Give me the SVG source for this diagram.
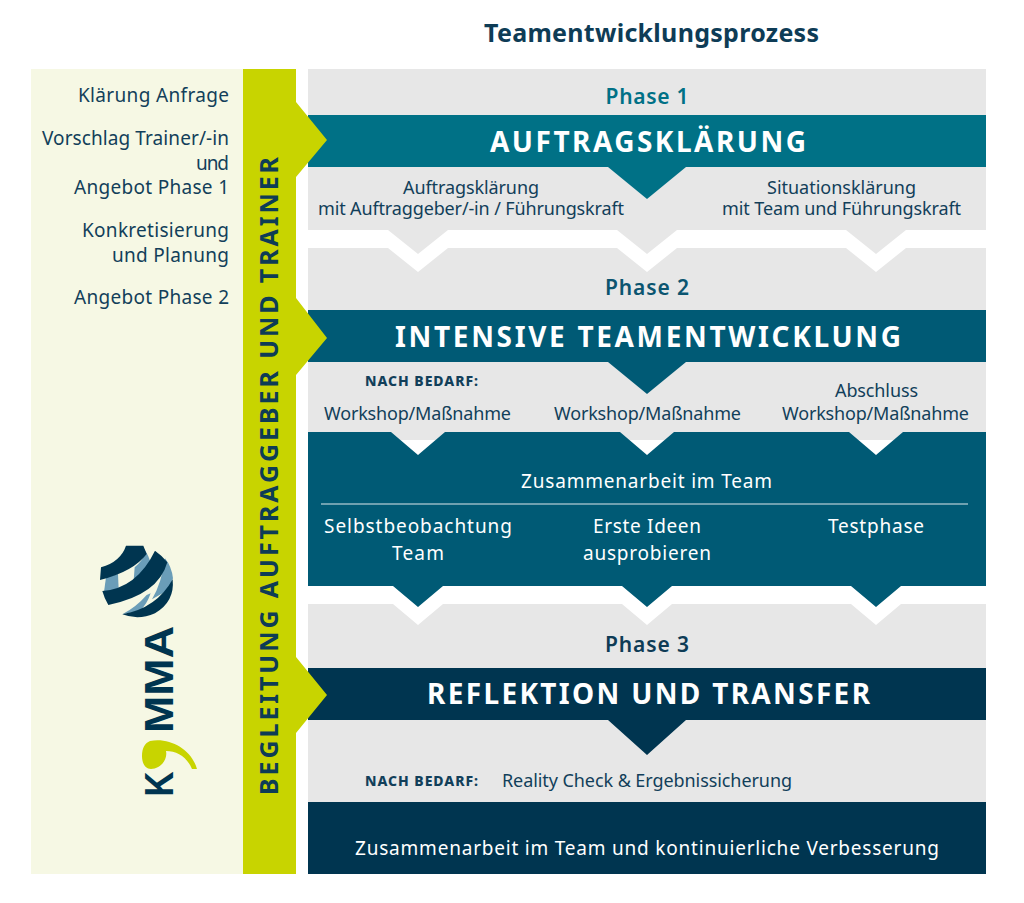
<svg xmlns="http://www.w3.org/2000/svg" width="1024" height="903" viewBox="0 0 1024 903">
<style>
text{font-family:"Noto Sans","Open Sans","Liberation Sans",sans-serif;fill:#123f5a;font-size:18px;text-anchor:middle}
.l{font-size:19px;text-anchor:end}
.w{fill:#fff;font-size:19px}
.h{font-size:28px;font-weight:700;fill:#fff}
.p{font-size:21px;font-weight:600}
.n{font-size:14px;font-weight:800;text-anchor:start}
.grey{fill:#e7e7e7}
.teal{fill:#007186}
.mid{fill:#005a75}
.dark{fill:#003550}
.green{fill:#c8d400}
.lm{font-family:"Liberation Sans",sans-serif;font-size:40px;font-weight:700;fill:#003550;text-anchor:start}
</style>
<rect width="1024" height="903" fill="#fff"/>
<text id="title" x="651.5" y="42" textLength="335" style="font-size:25px;font-weight:700;fill:#0e3c56">Teamentwicklungsprozess</text>
<g id="left-panel">
<rect x="31" y="69" width="212" height="805" fill="#f6f8e4"/>
<text class="l" x="229" y="102" textLength="151">Klärung Anfrage</text>
<text class="l" x="229" y="145" textLength="187">Vorschlag Trainer/-in</text>
<text class="l" x="229" y="170" textLength="33">und</text>
<text class="l" x="229" y="194" textLength="155">Angebot Phase 1</text>
<text class="l" x="229" y="237" textLength="147">Konkretisierung</text>
<text class="l" x="229" y="262" textLength="117">und Planung</text>
<text class="l" x="229" y="304" textLength="155">Angebot Phase 2</text>
</g>
<g id="logo">
<g transform="translate(90,530) scale(.3333)">
<path fill="#6a9db8" d="M48,142L84,132L86,178L42,186Z"/>
<path fill="#6a9db8" d="M155,47Q178,75 185,110L150,150L130,165L134,112Q155,95 165,72Z"/>
<path fill="#6a9db8" d="M170,195L182,190Q170,225 150,242L97,253Q140,230 170,195Z"/>
<path fill="#6a9db8" d="M225,85Q245,110 249,145L235,180L186,208Q215,160 225,85Z"/>
<path class="dark" d="M30,150L33,112Q92,95 108,47L160,47L170,72Q130,125 30,150Z"/>
<path class="dark" d="M37,183Q140,175 195,62Q218,78 232,97Q205,195 55,225Q43,205 37,183Z"/>
<path class="dark" d="M97,253Q200,235 248,148Q255,215 195,250Q145,272 97,253Z"/>
</g>
<text class="lm" transform="translate(173,733) rotate(-90)" textLength="107" lengthAdjust="spacingAndGlyphs">MMA</text>
<text class="lm" transform="translate(173,796.5) rotate(-90)" textLength="25" lengthAdjust="spacingAndGlyphs">K</text>
<path class="green" d="M150,741C170,737 192,750 197,769L192,769C187,757 177,751 166,751C168,760 160,769 151,769C145,769 142,763 142,756C142,748 145,743 150,741Z"/>
</g>
<g id="connectors"></g>
<g id="phase-1">
<path class="grey" d="M308,69H986V230H906L876,254L846,230H677L647,254L617,230H448L418,254L388,230H308Z"/>
<path class="teal" d="M308,115H986V167H686L647,199L608,167H308Z"/>
<text class="p" x="647" y="104" textLength="83" style="fill:#007186">Phase 1</text>
<text class="h" x="648" y="152" textLength="316">AUFTRAGSKLÄRUNG</text>
<text x="471" y="194" textLength="136">Auftragsklärung</text>
<text x="471" y="215" textLength="306">mit Auftraggeber/-in / Führungskraft</text>
<text x="841.5" y="194" textLength="149">Situationsklärung</text>
<text x="841.5" y="215" textLength="239">mit Team und Führungskraft</text>
</g>
<g id="phase-2">
<path class="grey" d="M308,248H388L418,272L448,248H617L647,272L677,248H846L876,272L906,248H986V440H308Z"/>
<path class="mid" d="M308,310H986V362H686L647,394L608,362H308Z"/>
<path class="mid" d="M308,432H391L418,455L445,432H620L647,455L674,432H849L876,455L903,432H986V586H901L876,607L851,586H672L647,607L622,586H443L418,607L393,586H308Z"/>
<line x1="321" y1="504" x2="968" y2="504" stroke="#dfe8ec" stroke-width="1"/>
<text class="p" x="647" y="295" textLength="84" style="fill:#0b5570">Phase 2</text>
<text class="h" x="648" y="347" textLength="506">INTENSIVE TEAMENTWICKLUNG</text>
<text class="n" x="365" y="386" textLength="113">NACH BEDARF:</text>
<text x="417.5" y="420" textLength="187">Workshop/Maßnahme</text>
<text x="647.5" y="420" textLength="187">Workshop/Maßnahme</text>
<text x="876.5" y="397" textLength="83">Abschluss</text>
<text x="875.5" y="420" textLength="187">Workshop/Maßnahme</text>
<text class="w" x="646.5" y="488" textLength="251">Zusammenarbeit im Team</text>
<text class="w" x="418" y="533" textLength="188">Selbstbeobachtung</text>
<text class="w" x="418" y="560" textLength="52">Team</text>
<text class="w" x="647" y="533" textLength="108">Erste Ideen</text>
<text class="w" x="647" y="560" textLength="128">ausprobieren</text>
<text class="w" x="876" y="533" textLength="96">Testphase</text>
</g>
<g id="phase-3">
<path class="grey" d="M308,604H393L418,625L443,604H622L647,625L672,604H851L876,625L901,604H986V810H308Z"/>
<path class="dark" d="M308,668H986V720H686L647,755L608,720H308Z"/>
<rect class="dark" x="308" y="802" width="678" height="72"/>
<text class="p" x="647" y="652" textLength="84" style="fill:#0e3c56">Phase 3</text>
<text class="h" x="648.5" y="704" textLength="443">REFLEKTION UND TRANSFER</text>
<text class="n" x="365" y="786" textLength="113">NACH BEDARF:</text>
<text x="647" y="787" textLength="290">Reality Check &amp; Ergebnissicherung</text>
<text class="w" x="647" y="855" textLength="584">Zusammenarbeit im Team und kontinuierliche Verbesserung</text>
</g>
<g id="side-bar">
<path class="green" d="M243,69H296V102L327,140L296,177V298L327,338L296,375V657L327,695L296,733V874H243Z"/>
<text transform="translate(278,476) rotate(-90)" textLength="638" style="font-size:25px;font-weight:700;fill:#0e3c56">BEGLEITUNG AUFTRAGGEBER UND TRAINER</text>
</g>
</svg>
